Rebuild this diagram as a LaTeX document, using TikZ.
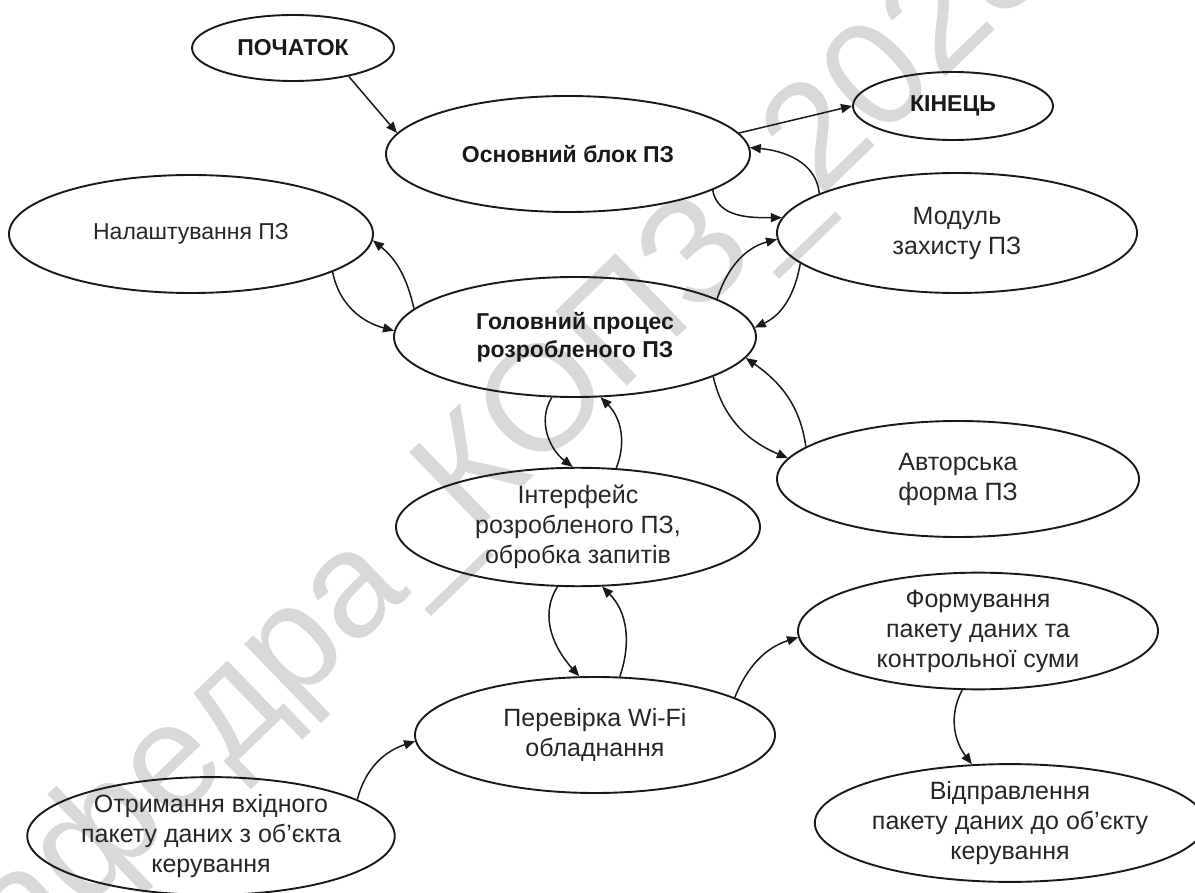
\documentclass[tikz,border=0pt]{standalone}
\usepackage{fontspec}
\setmainfont{Liberation Sans}
\usetikzlibrary{shapes.geometric,arrows.meta}

\begin{document}
\begin{tikzpicture}[x=1pt,y=1pt,
  blob/.style={draw=black!90, line width=1.9pt, ellipse, inner sep=0pt,
    align=center, text=black!85, font=\fontsize{25}{30}\selectfont},
  sblob/.style={blob, font=\fontsize{23}{28}\selectfont},
  bblob/.style={blob, text=black!90, font=\fontsize{23}{28}\selectfont\bfseries},
  flow/.style={draw=black!90, line width=1.5pt, -{Triangle[length=11pt,width=9pt]}},
  wm/.style={text=gray!30, font=\fontsize{150}{150}\selectfont, inner sep=0pt}]

\useasboundingbox (0,0) rectangle (1195,-893);

% watermark behind the chart
\begin{scope}
  \clip (0,0) rectangle (1195,-893);
  \node[wm, rotate=44, anchor=base west] (mark) at (-40,-1030) {Кафедра\_КОПЗ\_2023};
\end{scope}

% blocks
\node[bblob, minimum width=202pt, minimum height=66pt]  (poch) at (293,-48)   {ПОЧАТОК};
\node[bblob, minimum width=200pt, minimum height=68pt]  (kin)  at (953,-106)  {КІНЕЦЬ};
\node[bblob, minimum width=364pt, minimum height=116pt] (osn)  at (568,-154)  {Основний блок ПЗ};
\node[sblob, minimum width=364pt, minimum height=118pt] (nal)  at (191,-234)  {Налаштування ПЗ};
\node[blob,  minimum width=360pt, minimum height=120pt] (mod)  at (957,-233)  {Модуль\\захисту ПЗ};
\node[bblob, minimum width=362pt, minimum height=120pt] (gol)  at (575,-337)  {Головний процес\\розробленого ПЗ};
\node[blob,  minimum width=362pt, minimum height=116pt] (avt)  at (958,-479)  {Авторська\\форма ПЗ};
\node[blob,  minimum width=364pt, minimum height=118pt] (int)  at (578,-527)  {Інтерфейс\\розробленого ПЗ,\\обробка запитів};
\node[blob,  minimum width=360pt, minimum height=116pt] (per)  at (595,-735)  {Перевірка Wi-Fi\\обладнання};
\node[blob,  minimum width=360pt, minimum height=116pt] (form) at (978,-631)  {Формування\\пакету даних та\\контрольної суми};
\node[blob,  minimum width=364pt, minimum height=116pt] (vid)  at (1010,-823) {Відправлення\\пакету даних до об'єкту\\керування};
\node[blob,  minimum width=366pt, minimum height=114pt] (otr)  at (211,-836)  {Отримання вхідного\\пакету даних з об'єкта\\керування};

% connectors
\draw[flow] (poch.-27) -- (osn.173);
\draw[flow] (osn.7) -- (kin.180);
\draw[flow] (mod.164) to[out=95,in=-5] (osn.2);
\draw[flow] (osn.-14) to[out=-80,in=180] (mod.175);
\draw[flow] (gol.15) to[out=72,in=195] (mod.182);
\draw[flow] (mod.191) to[out=260,in=25] (gol.3);
\draw[flow] (avt.168) to[out=98,in=-35] (gol.-7);
\draw[flow] (gol.-16) to[out=-77,in=157] (avt.173);
\draw[flow] (gol.170) to[out=103,in=-39] (nal.-2);
\draw[flow] (nal.-15) to[out=-79,in=165] (gol.178);
\draw[flow] (gol.-111) to[out=238,in=143] (int.95);
\draw[flow] (int.57) to[out=68,in=-45] (gol.-67);
\draw[flow] (int.-109) to[out=238,in=132] (per.105);
\draw[flow] (per.67) to[out=71,in=-45] (int.-68);
\draw[flow] (otr.14) to[out=76,in=198] (per.182);
\draw[flow] (per.15) to[out=68,in=198] (form.182);
\draw[flow] (form.-105) to[out=242,in=127] (vid.123);
\end{tikzpicture}
\end{document}
